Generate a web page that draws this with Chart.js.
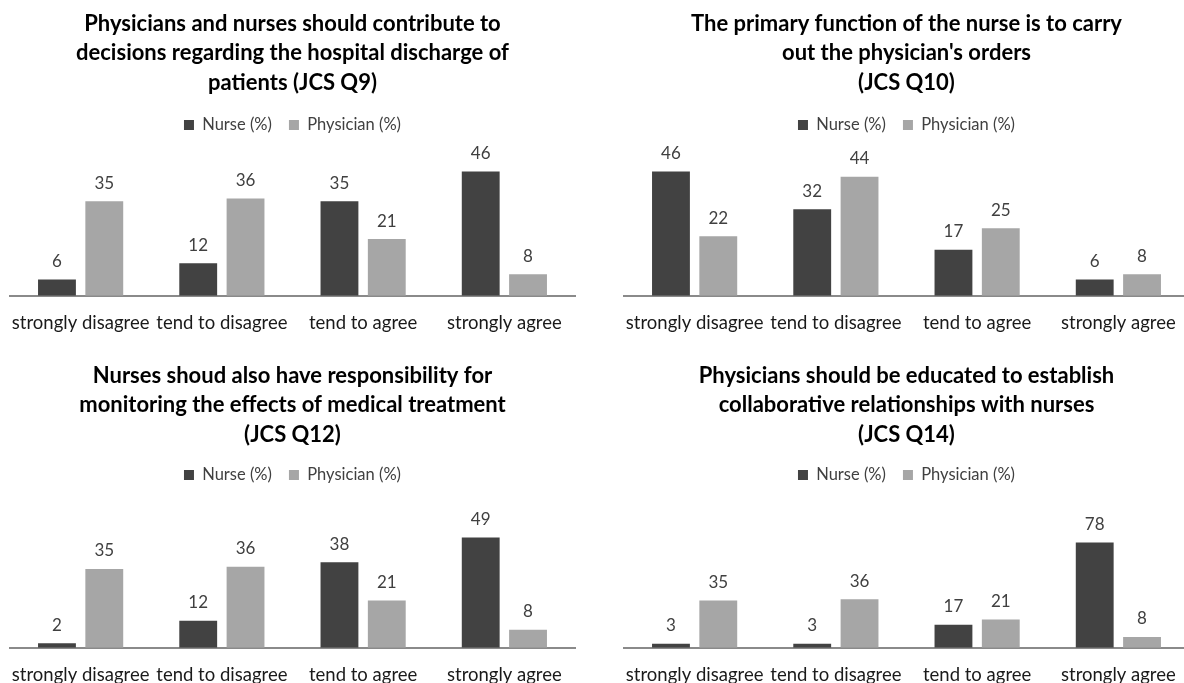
<!DOCTYPE html>
<html>
<head>
<meta charset="utf-8">
<script src="https://cdn.jsdelivr.net/npm/chart.js@4"></script>
<style>
  html, body { margin: 0; padding: 0; background: #ffffff; overflow: hidden; }
  body { width: 1184px; height: 683px; position: relative; }
  .panel { position: absolute; }
</style>
</head>
<body>
<canvas id="q9" class="panel"></canvas>
<canvas id="q10" class="panel"></canvas>
<canvas id="q12" class="panel"></canvas>
<canvas id="q14" class="panel"></canvas>
<script>
// Response categories shared by all four questions
const categories = ['strongly disagree', 'tend to disagree', 'tend to agree', 'strongly agree'];
const seriesNames = ['Nurse (%)', 'Physician (%)'];

// JCS Q9
const q9Title = ['Physicians and nurses should contribute to', 'decisions regarding the hospital discharge of', 'patients (JCS Q9)'];
const q9Nurse = [6, 12, 35, 46];
const q9Physician = [35, 36, 21, 8];

// JCS Q10
const q10Title = ['The primary function of the nurse is to carry', "out the physician's orders", '(JCS Q10)'];
const q10Nurse = [46, 32, 17, 6];
const q10Physician = [22, 44, 25, 8];

// JCS Q12
const q12Title = ['Nurses shoud also have responsibility for', 'monitoring the effects of medical treatment', '(JCS Q12)'];
const q12Nurse = [2, 12, 38, 49];
const q12Physician = [35, 36, 21, 8];

// JCS Q14
const q14Title = ['Physicians should be educated to establish', 'collaborative relationships with nurses', '(JCS Q14)'];
const q14Nurse = [3, 3, 17, 78];
const q14Physician = [35, 36, 21, 8];

// Value-axis maxima (percent)
const axisMax = [50, 50, 60, 100];

const FONT = 'Lato, "Open Sans", sans-serif';
const NURSE_COLOR = '#424242';
const PHYSICIAN_COLOR = '#a6a6a6';

// Legend box is given a fixed height so the plot area starts where wanted
const legendHeightPlugin = {
  id: 'legendHeight',
  beforeInit(chart, args, opts) {
    const legend = chart.legend;
    if (!legend) return;
    const origFit = legend.fit;
    legend.fit = function () {
      origFit.call(this);
      if (opts && opts.height) this.height = opts.height;
    };
  }
};

// Value labels above each bar
const valueLabelPlugin = {
  id: 'valueLabels',
  afterDatasetsDraw(chart, args, opts) {
    const ctx = chart.ctx;
    ctx.save();
    ctx.font = opts.font;
    ctx.fillStyle = opts.color;
    ctx.textAlign = 'center';
    ctx.textBaseline = 'middle';
    chart.data.datasets.forEach((ds, i) => {
      const meta = chart.getDatasetMeta(i);
      meta.data.forEach((bar, j) => {
        ctx.fillText(String(ds.data[j]), bar.x, bar.y - opts.offset);
      });
    });
    ctx.restore();
  }
};

function makePanel(id, layout, title, nurse, physician, yMax) {
  const canvas = document.getElementById(id);
  canvas.width = layout.w;
  canvas.height = layout.h;
  canvas.style.left = layout.x + 'px';
  canvas.style.top = layout.y + 'px';
  canvas.style.width = layout.w + 'px';
  canvas.style.height = layout.h + 'px';

  return new Chart(canvas, {
    type: 'bar',
    data: {
      labels: categories,
      datasets: [
        { label: seriesNames[0], data: nurse, backgroundColor: NURSE_COLOR, borderWidth: 0 },
        { label: seriesNames[1], data: physician, backgroundColor: PHYSICIAN_COLOR, borderWidth: 0 }
      ]
    },
    options: {
      responsive: false,
      devicePixelRatio: 1,
      animation: false,
      events: [],
      datasets: { bar: { categoryPercentage: 0.67, barPercentage: 0.8 } },
      layout: { padding: { left: 10, right: 10, top: 0, bottom: layout.padBottom } },
      plugins: {
        title: {
          display: true,
          text: title,
          color: '#000000',
          font: { family: FONT, size: 22, weight: 'bold', lineHeight: 1.3386 },
          padding: { top: layout.titleTop, bottom: layout.titleBottom }
        },
        legend: {
          display: true,
          position: 'top',
          labels: {
            boxWidth: 10,
            boxHeight: 10,
            padding: 17,
            color: '#404040',
            font: { family: FONT, size: 16.5 }
          }
        },
        legendHeight: { height: layout.legendH },
        valueLabels: { font: '17px ' + FONT, color: '#404040', offset: 18 },
        tooltip: { enabled: false }
      },
      scales: {
        x: {
          // tick marks are hidden with the grid; their length spaces the labels
          grid: { display: false, drawTicks: true, tickLength: 14 },
          border: { display: true, color: '#8a8a8a', width: 2 },
          ticks: {
            color: '#1a1a1a',
            padding: 2,
            maxRotation: 0,
            autoSkip: false,
            font: { family: FONT, size: 18.5 }
          }
        },
        y: {
          display: false,
          min: 0,
          max: yMax
        }
      }
    },
    plugins: [legendHeightPlugin, valueLabelPlugin]
  });
}

const topLayout = { w: 585, h: 345, titleTop: 9, titleBottom: 2.3, legendH: 61, padBottom: 9 };
const botLayout = { w: 585, h: 350, titleTop: 21, titleBottom: 0.3, legendH: 63, padBottom: 2 };

makePanel('q9',  Object.assign({ x: 0,   y: 0 },   topLayout), q9Title,  q9Nurse,  q9Physician,  axisMax[0]);
makePanel('q10', Object.assign({ x: 614, y: 0 },   topLayout), q10Title, q10Nurse, q10Physician, axisMax[1]);
makePanel('q12', Object.assign({ x: 0,   y: 340 }, botLayout), q12Title, q12Nurse, q12Physician, axisMax[2]);
makePanel('q14', Object.assign({ x: 614, y: 340 }, botLayout), q14Title, q14Nurse, q14Physician, axisMax[3]);
</script>
</body>
</html>
